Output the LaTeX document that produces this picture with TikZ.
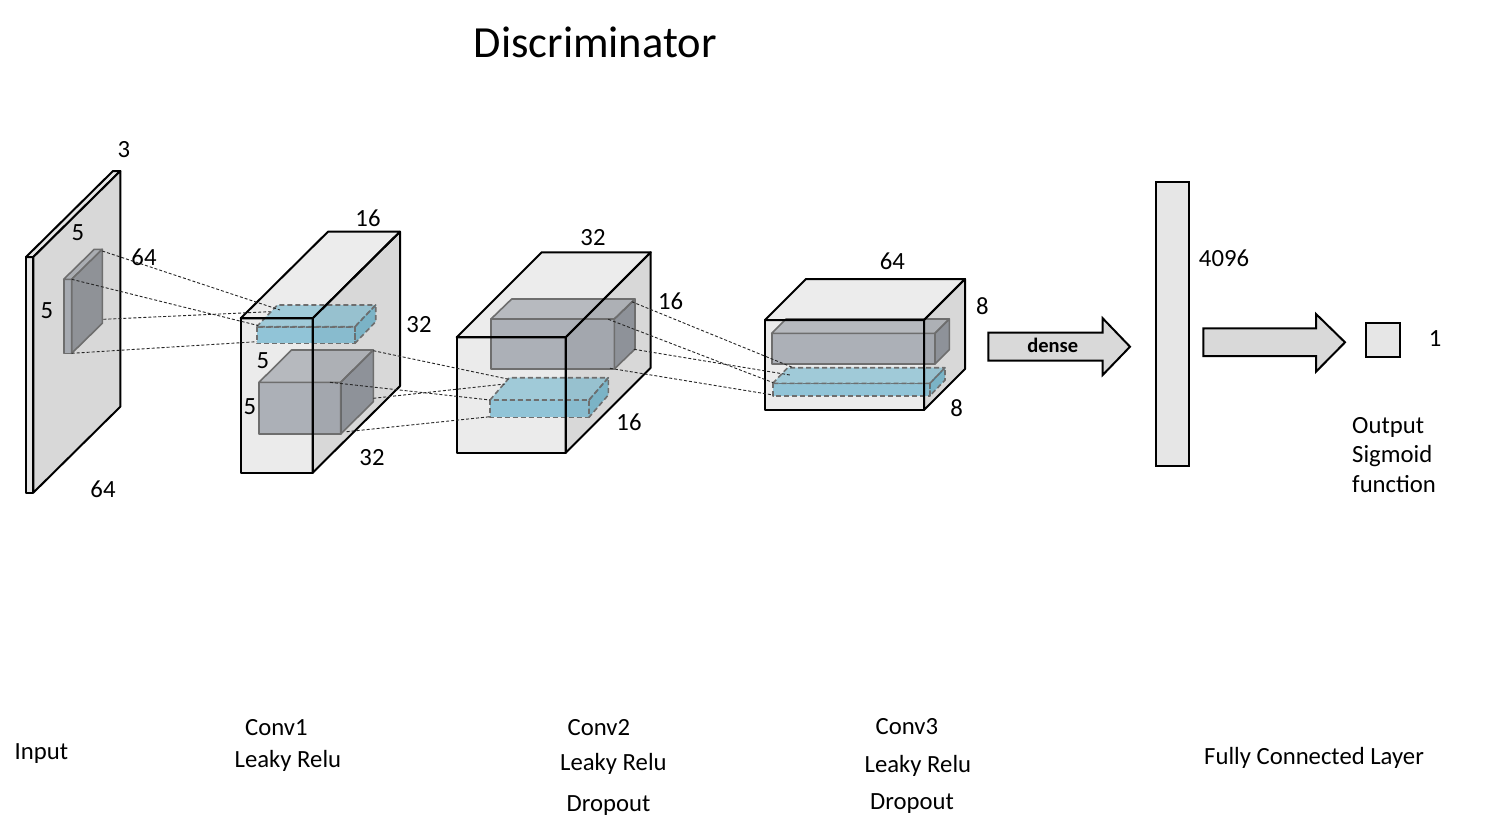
\documentclass[tikz,border=0pt]{standalone}
\usepackage{fontspec}
\setmainfont{Carlito}
\definecolor{boxfront}{HTML}{EBEBEB}
\definecolor{boxtop}{HTML}{ECECEC}
\definecolor{boxside}{HTML}{D8D8D8}
\definecolor{gkfront}{HTML}{6F7785}
\definecolor{gktop}{HTML}{838993}
\definecolor{gkside}{HTML}{464E5C}
\definecolor{gkline}{HTML}{6E6E6E}
\definecolor{blfront}{HTML}{399FC5}
\definecolor{bltop}{HTML}{57ABC7}
\definecolor{blside}{HTML}{2090B6}
\definecolor{kfront}{HTML}{A6AAB1}
\definecolor{ktop}{HTML}{AAADB2}
\definecolor{kside}{HTML}{8F9297}
\definecolor{arrowfill}{HTML}{D9D9D9}
\definecolor{barfill}{HTML}{E6E6E6}
\newcommand{\cuboid}[9]{%
  \path[#7] (#1,#2) rectangle ({#1+#3},{#2+#4});
  \path[#8] (#1,#2) -- ({#1+#5},{#2-#6}) -- ({#1+#3+#5},{#2-#6}) -- ({#1+#3},#2) -- cycle;
  \path[#9] ({#1+#3},#2) -- ({#1+#3+#5},{#2-#6}) -- ({#1+#3+#5},{#2+#4-#6}) -- ({#1+#3},{#2+#4}) -- cycle;
}
\tikzset{
  ofront/.style={fill=boxfront},
  otop/.style={fill=boxtop},
  oside/.style={fill=boxside},
  outline/.style={draw=black, line width=2pt, line join=round},
  gline/.style={draw=gkline, line width=1.6pt, line join=round},
  gfront/.style={gline, fill=gkfront, fill opacity=0.5},
  gtop/.style={gline, fill=gktop, fill opacity=0.5},
  gside/.style={gline, fill=gkside, fill opacity=0.5},
  bline/.style={draw=gkline, line width=1.6pt, line join=round, dash pattern=on 5pt off 3pt},
  bfront/.style={bline, fill=blfront, fill opacity=0.5},
  btop/.style={bline, fill=bltop, fill opacity=0.5},
  bside/.style={bline, fill=blside, fill opacity=0.5},
  sfront/.style={outline, fill=barfill},
  sside/.style={outline, fill=boxside},
  kf/.style={gline, fill=kfront},
  kt/.style={gline, fill=ktop},
  ks/.style={gline, fill=kside},
  conn/.style={draw=black!85, line width=0.9pt, dash pattern=on 3pt off 2pt},
  lbl/.style={font=\fontsize{24.7}{29}\selectfont, inner sep=0pt},
  bigarrow/.style={draw=black, line width=2pt, fill=arrowfill, line join=miter},
  barbox/.style={draw=black, line width=2pt, fill=barfill, inner sep=0pt},
}
\begin{document}
\begin{tikzpicture}[x=1pt,y=-1pt]
\useasboundingbox (0,0) rectangle (1495,835);
\fill[white] (0,0) rectangle (1495,835);

% title
\node[font=\fontsize{44.5}{52}\selectfont, inner sep=0pt, anchor=base west] (title) at (473.5,57.3) {Discriminator};

% input slab and kernel
\cuboid{26}{257}{7.3}{235.7}{87}{86}{sfront}{sfront}{sside}
\cuboid{63.7}{279.3}{8}{74}{30.6}{30}{kf}{kt}{ks}

% conv1
\cuboid{240.7}{318.3}{72}{154.4}{87.3}{86.6}{ofront}{otop}{oside}
\cuboid{259}{382.3}{81.7}{51.7}{32.6}{32.3}{gfront}{gtop}{gside}
\cuboid{256.7}{326.7}{98.3}{16.6}{20.7}{21.7}{bfront}{btop}{bside}
\cuboid{240.7}{318.3}{72}{154.4}{87.3}{86.6}{outline}{outline}{outline}

% conv2
\cuboid{456.7}{337.3}{109}{115.4}{85}{85}{ofront}{otop}{oside}
\cuboid{491}{319}{123.3}{50}{20.7}{20}{gfront}{gtop}{gside}
\cuboid{490}{400}{99}{17.3}{19.3}{22.3}{bfront}{btop}{bside}
\cuboid{456.7}{337.3}{109}{115.4}{85}{85}{outline}{outline}{outline}

% conv3
\cuboid{765}{320}{159}{90}{41}{41}{ofront}{otop}{oside}
\cuboid{771.7}{333.3}{163.3}{30.7}{14.3}{14.3}{gfront}{gtop}{gside}
\cuboid{772.7}{383.3}{157.3}{12.4}{15}{15.6}{bfront}{btop}{bside}
\cuboid{765}{320}{159}{90}{41}{41}{outline}{outline}{outline}

% connector end points
\coordinate (k1) at (102.3,251);
\coordinate (k2) at (71.7,279.3);
\coordinate (k3) at (103.3,319.3);
\coordinate (k4) at (71.7,353.3);
\coordinate (a1) at (280,310);
\coordinate (a2) at (258,325.5);
\coordinate (a3) at (270,311.7);
\coordinate (a4) at (256.7,341.7);
\coordinate (g1) at (373.3,350.7);
\coordinate (g2) at (330,382.3);
\coordinate (g3) at (373.3,398.3);
\coordinate (g4) at (346.7,431.7);
\coordinate (c1) at (509,379.3);
\coordinate (c2) at (490,400);
\coordinate (c3) at (505,384);
\coordinate (c4) at (490,416.7);
\coordinate (h1) at (631.7,301.7);
\coordinate (h2) at (608.3,319.3);
\coordinate (h3) at (634,349.3);
\coordinate (h4) at (610,368.3);
\coordinate (d1) at (793.3,367.7);
\coordinate (d2) at (773.3,382.7);
\coordinate (d3) at (790,375);
\coordinate (d4) at (773.3,395);

\draw[conn] (k1) -- (a1);
\draw[conn] (k2) -- (a2);
\draw[conn] (k3) -- (a3);
\draw[conn] (k4) -- (a4);
\draw[conn] (g1) -- (c1);
\draw[conn] (g2) -- (c2);
\draw[conn] (g3) -- (c3);
\draw[conn] (g4) -- (c4);
\draw[conn] (h1) -- (d1);
\draw[conn] (h2) -- (d2);
\draw[conn] (h3) -- (d3);
\draw[conn] (h4) -- (d4);

% dense arrow
\draw[bigarrow] (988.3,332.7) -- (1102.7,332.7) -- (1102.7,318.3) -- (1130,346.7)
  -- (1102.7,375) -- (1102.7,360.7) -- (988.3,360.7) -- cycle;
\node[font=\fontsize{20.5}{24}\selectfont\bfseries, inner sep=0pt, anchor=base] (dense) at (1052.7,352.7) {dense};

% fully connected bar
\node[barbox, minimum width=33.6pt, minimum height=284.3pt] (fc) at (1172.5,323.85) {};

% output arrow
\draw[bigarrow] (1203.3,328.3) -- (1316,328.3) -- (1316,314) -- (1345,342.3)
  -- (1316,371.7) -- (1316,356) -- (1203.3,356) -- cycle;

% output unit
\node[barbox, minimum width=34.3pt, minimum height=34pt] (out) at (1382.85,339.7) {};

% dimension labels
\node[lbl] (n3) at (124,150) {3};
\node[lbl] (n5a) at (78,233) {5};
\node[lbl] (n64a) at (144,257) {64};
\node[lbl] (n5b) at (47,311) {5};
\node[lbl] (n64b) at (103,489) {64};
\node[lbl] (n16a) at (368,218) {16};
\node[lbl] (n32a) at (419,325) {32};
\node[lbl] (n5c) at (263,361) {5};
\node[lbl] (n5d) at (250,407) {5};
\node[lbl] (n32b) at (372,458) {32};
\node[lbl] (n32c) at (593,238) {32};
\node[lbl] (n16b) at (670.7,301) {16};
\node[lbl] (n16c) at (629,422.7) {16};
\node[lbl] (n64c) at (892.3,261.7) {64};
\node[lbl] (n8a) at (982.3,305.7) {8};
\node[lbl] (n8b) at (956.7,408.3) {8};
\node[lbl] (n4096) at (1224,258.3) {4096};
\node[lbl] (n1) at (1435,338.3) {1};

\node[lbl, anchor=base west] (o1) at (1352,433.3) {Output};
\node[lbl, anchor=base west] (o2) at (1352,462.3) {Sigmoid};
\node[lbl, anchor=base west] (o3) at (1352,492.3) {function};

% layer labels
\node[lbl, anchor=base west] (l0) at (14.5,759.3) {Input};
\node[lbl, anchor=base west] (l1a) at (245,735) {Conv1};
\node[lbl, anchor=base west] (l1b) at (234.5,767.5) {Leaky Relu};
\node[lbl, anchor=base west] (l2a) at (567.5,735) {Conv2};
\node[lbl, anchor=base west] (l2b) at (560,770.7) {Leaky Relu};
\node[lbl, anchor=base west] (l2c) at (566.5,811) {Dropout};
\node[lbl, anchor=base west] (l3a) at (875.5,734) {Conv3};
\node[lbl, anchor=base west] (l3b) at (864.5,772.3) {Leaky Relu};
\node[lbl, anchor=base west] (l3c) at (870,809.3) {Dropout};
\node[lbl, anchor=base west] (l4) at (1204,764.3) {Fully Connected Layer};
\end{tikzpicture}
\end{document}
